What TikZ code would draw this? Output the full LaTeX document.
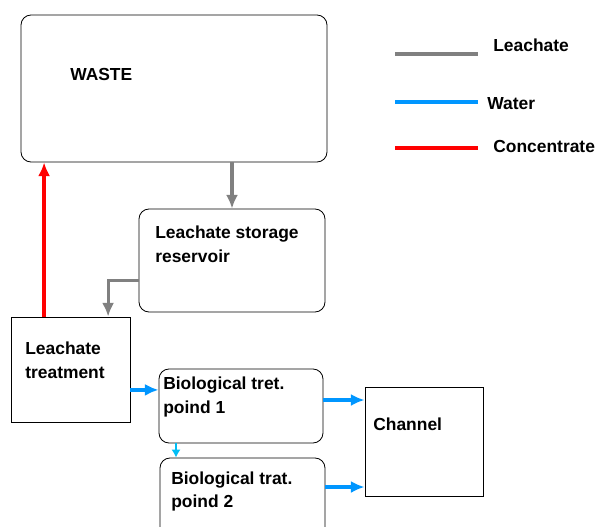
\documentclass[tikz,border=0pt]{standalone}
\usepackage{fontspec}
\setmainfont{Liberation Sans}
\usepackage{tikz}
\usetikzlibrary{arrows.meta,calc,positioning}

\definecolor{leachgray}{RGB}{128,128,128}
\definecolor{waterblue}{RGB}{0,150,255}
\definecolor{lightcyan}{RGB}{0,190,245}
\definecolor{concred}{RGB}{255,0,0}

\begin{document}
\begin{tikzpicture}[
  font=\fontsize{12.4pt}{17pt}\selectfont\bfseries,
  box/.style={draw, line width=0.6pt, rounded corners=0.25cm, inner sep=0pt},
  sqbox/.style={draw, line width=0.6pt, inner sep=0pt},
  txt/.style={anchor=west, align=left, inner sep=0pt},
  flow/.style={line width=2.3pt, -{Latex[length=3.4mm,width=3mm]}}]

\useasboundingbox (0,0) rectangle (14.925,-13.15);

\node[box, minimum width=7.65cm, minimum height=3.675cm] (waste) at (4.35,-2.2125) {};
\node[box, minimum width=4.65cm, minimum height=2.575cm] (res) at (5.8,-6.5125) {};
\node[sqbox, minimum width=2.975cm, minimum height=2.625cm] (treat) at (1.7625,-9.2375) {};
\node[box, minimum width=4.1cm, minimum height=1.85cm] (pond1) at (6.025,-10.15) {};
\node[box, minimum width=4.125cm, minimum height=2.05cm] (pond2) at (6.0625,-12.475) {};
\node[sqbox, minimum width=2.95cm, minimum height=2.725cm] (chan) at (10.6,-11.0375) {};

% testi
\node[txt] (wastetxt) at (1.75,-1.85) {WASTE};
\node[txt] (restxt) at (3.875,-6.1) {Leachate storage\\reservoir};
\node[txt] (treattxt) at (0.625,-9.0) {Leachate\\treatment};
\node[txt] (pond1txt) at (4.075,-9.925) {Biological tret.\\poind 1};
\node[txt] (pond2txt) at (4.275,-12.2875) {Biological trat.\\poind 2};
\node[txt] (chantxt) at (9.325,-10.6) {Channel};

% punti di partenza
\coordinate (resout) at ([yshift=-0.49cm]res.west);
\coordinate (concout) at ([xshift=-0.66cm]treat.north);
\coordinate (treatout) at ([yshift=-0.51cm]treat.east);
\coordinate (p1out) at ([yshift=0.15cm]pond1.east);
\coordinate (p2out) at ([yshift=0.3cm]pond2.east);
\coordinate (p1down) at ([xshift=-1.625cm]pond1.south);

% flussi
\draw[flow, leachgray] (res.north |- waste.south) -- (res.north);
\draw[flow, leachgray, line width=2pt] (resout) -| ([xshift=0.94cm]treat.north);
\draw[flow, concred] (concout) -- (concout |- waste.south);
\draw[flow, waterblue] (treatout) -- (pond1.west |- treatout);
\draw[flow, waterblue] (p1out) -- (chan.west |- p1out);
\draw[flow, waterblue] (p2out) -- (chan.west |- p2out);
\draw[lightcyan, line width=1.8pt, -{Latex[length=2mm,width=2.3mm]}] (p1down) -- (p1down |- pond2.north);

% legenda
\node[txt] (legleach) at (12.325,-1.125) {Leachate};
\node[txt] (legwater) at (12.175,-2.6) {Water};
\node[txt] (legconc) at (12.325,-3.65) {Concentrate};
\draw[leachgray, line width=2.8pt] (9.875,-1.35) -- (11.95,-1.35);
\draw[waterblue, line width=2.8pt] (9.875,-2.55) -- (11.95,-2.55);
\draw[concred, line width=2.8pt] (9.875,-3.7) -- (11.95,-3.7);

\end{tikzpicture}
\end{document}
